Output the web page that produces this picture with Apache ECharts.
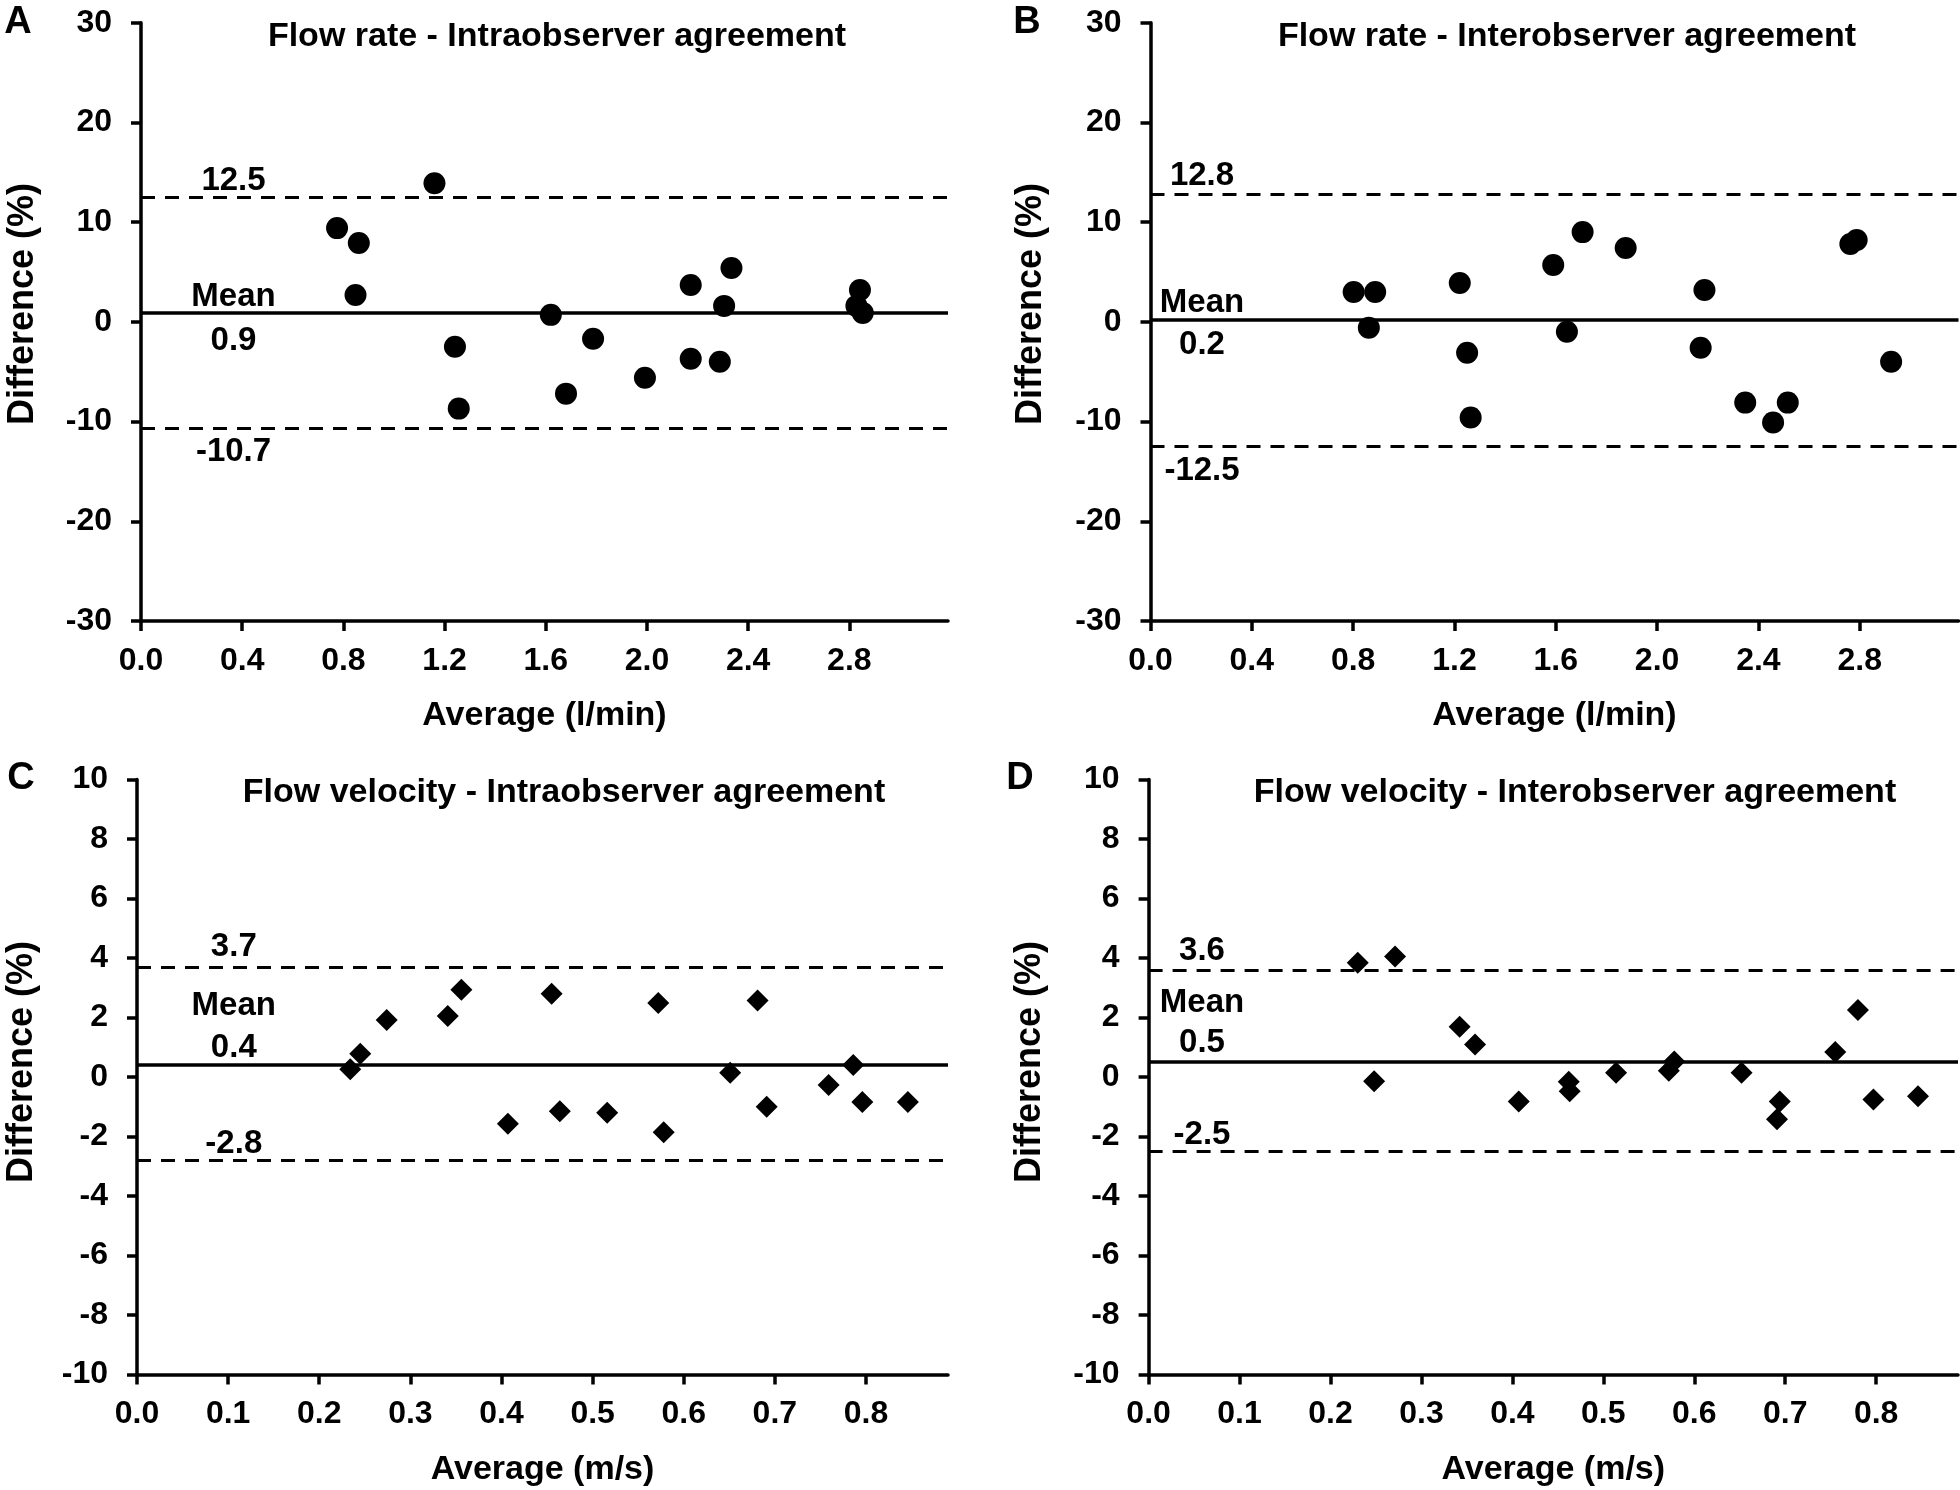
<!DOCTYPE html>
<html>
<head>
<meta charset="utf-8">
<script src="https://cdn.jsdelivr.net/npm/echarts@6/dist/echarts.min.js"></script>
<style>
html,body{margin:0;padding:0;background:#ffffff;}
#chart{width:1960px;height:1490px;}
</style>
</head>
<body>
<div id="chart"></div>
<script>
// ---------- DATA ----------
const panelLetters = ['A', 'B', 'C', 'D'];
const panelTitles = [
  'Flow rate - Intraobserver agreement',
  'Flow rate - Interobserver agreement',
  'Flow velocity - Intraobserver agreement',
  'Flow velocity - Interobserver agreement'
];
const xAxisNames = ['Average (l/min)', 'Average (l/min)', 'Average (m/s)', 'Average (m/s)'];
const yAxisName = 'Difference (%)';

const flowAvgTicks = [0, 0.4, 0.8, 1.2, 1.6, 2.0, 2.4, 2.8];
const velAvgTicks = [0, 0.1, 0.2, 0.3, 0.4, 0.5, 0.6, 0.7, 0.8];

// Panel A: flow rate, intraobserver
const aAvg  = [0.775, 0.861, 0.848, 1.160, 1.241, 1.256, 1.620, 1.680, 1.787, 1.992, 2.173, 2.173, 2.334, 2.305, 2.288, 2.842, 2.828, 2.853];
const aDiff = [9.4, 7.9, 2.7, 13.9, -2.5, -8.7, 0.7, -7.2, -1.7, -5.6, 3.7, -3.7, 5.4, 1.6, -4.0, 3.2, 1.6, 0.9];
const aLines = [0.9, 12.5, -10.7];   // mean, upper, lower

// Panel B: flow rate, interobserver
const bAvg  = [0.802, 0.887, 0.862, 1.221, 1.250, 1.264, 1.590, 1.644, 1.706, 1.876, 2.187, 2.172, 2.348, 2.458, 2.516, 2.763, 2.788, 2.924];
const bDiff = [3.0, 3.0, -0.6, 3.9, -3.1, -9.6, 5.7, -1.0, 9.0, 7.4, 3.2, -2.6, -8.1, -10.1, -8.1, 7.8, 8.2, -4.0];
const bLines = [0.2, 12.8, -12.5];

// Panel C: flow velocity, intraobserver
const cAvg  = [0.234, 0.245, 0.274, 0.341, 0.356, 0.455, 0.407, 0.464, 0.516, 0.572, 0.578, 0.651, 0.681, 0.691, 0.759, 0.786, 0.796, 0.846];
const cDiff = [0.26, 0.78, 1.92, 2.05, 2.93, 2.80, -1.57, -1.15, -1.20, 2.49, -1.86, 0.14, 2.57, -1.00, -0.27, 0.40, -0.84, -0.84];
const cLines = [0.4, 3.7, -2.8];

// Panel D: flow velocity, interobserver
const dAvg  = [0.230, 0.271, 0.248, 0.342, 0.359, 0.407, 0.462, 0.463, 0.514, 0.572, 0.578, 0.652, 0.694, 0.691, 0.755, 0.780, 0.797, 0.846];
const dDiff = [3.84, 4.05, -0.14, 1.69, 1.09, -0.82, -0.16, -0.48, 0.14, 0.21, 0.52, 0.14, -0.82, -1.42, 0.84, 2.25, -0.76, -0.65];
const dLines = [0.5, 3.6, -2.5];

// ---------- LAYOUT / STYLE ----------
const FONT = '"Liberation Sans", Arial, Helvetica, sans-serif';
const panels = [
  {avg: aAvg, diff: aDiff, lines: aLines, xTicks: flowAvgTicks, xMax: 3.19, yMin: -30, yMax: 30, yInt: 10, symbol: 'circle',
   grid: {left: 141, top: 22.7, width: 807, height: 598.3}, letter: [18, 23], title: [557, 37],
   yName: [23, 304], annX: 92.5, annDy: {upper: -16, mean: -15.5, meanVal: 28.5, lower: 23.5}},
  {avg: bAvg, diff: bDiff, lines: bLines, xTicks: flowAvgTicks, xMax: 3.19, yMin: -30, yMax: 30, yInt: 10, symbol: 'circle',
   grid: {left: 1150.5, top: 22.7, width: 808, height: 598.3}, letter: [1027, 23], title: [1567, 37],
   yName: [1031, 304], annX: 51.5, annDy: {upper: -18.5, mean: -16.5, meanVal: 25.5, lower: 24.5}},
  {avg: cAvg, diff: cDiff, lines: cLines, xTicks: velAvgTicks, xMax: 0.89, yMin: -10, yMax: 10, yInt: 2, symbol: 'diamond',
   grid: {left: 137, top: 779.5, width: 811, height: 595}, letter: [21, 779], title: [564, 793],
   yName: [22, 1062], annX: 96.8, annDy: {upper: -20.5, mean: -59.5, meanVal: -17.5, lower: -16.5}},
  {avg: dAvg, diff: dDiff, lines: dLines, xTicks: velAvgTicks, xMax: 0.89, yMin: -10, yMax: 10, yInt: 2, symbol: 'diamond',
   grid: {left: 1148.6, top: 779.5, width: 809.4, height: 595}, letter: [1020, 779], title: [1575, 793],
   yName: [1030, 1062], annX: 53.4, annDy: {upper: -18.5, mean: -59.5, meanVal: -19.5, lower: -16.5}}
];

const textBase = {color: '#000', fontWeight: 'bold', fontFamily: FONT};

const option = {
  backgroundColor: '#ffffff',
  animation: false,
  grid: panels.map(p => Object.assign({containLabel: false}, p.grid)),
  xAxis: panels.map((p, i) => ({
    type: 'value', gridIndex: i, min: 0, max: p.xMax,
    name: xAxisNames[i], nameLocation: 'middle', nameGap: 78,
    nameTextStyle: Object.assign({fontSize: 34}, textBase),
    axisLine: {show: true, onZero: false, lineStyle: {color: '#000', width: 3.5}},
    axisTick: {show: true, customValues: p.xTicks, length: 10, lineStyle: {color: '#000', width: 3.5}},
    axisLabel: Object.assign({customValues: p.xTicks, fontSize: 32, margin: 24,
      formatter: v => Number(v).toFixed(1)}, textBase),
    splitLine: {show: false}
  })),
  yAxis: panels.map((p, i) => ({
    type: 'value', gridIndex: i, min: p.yMin, max: p.yMax, interval: p.yInt,
    axisLine: {show: true, onZero: false, lineStyle: {color: '#000', width: 3.5}},
    axisTick: {show: true, length: 10, lineStyle: {color: '#000', width: 3.5}},
    axisLabel: Object.assign({fontSize: 32, margin: 29}, textBase),
    splitLine: {show: false}
  })),
  series: panels.map((p, i) => ({
    type: 'scatter', xAxisIndex: i, yAxisIndex: i, z: 5,
    symbol: p.symbol, symbolSize: 22,
    itemStyle: {color: '#000', opacity: 1},
    data: p.avg.map((x, k) => [x, p.diff[k]]),
    markLine: {
      silent: true, symbol: ['none', 'none'], animation: false,
      label: {show: false},
      lineStyle: {color: '#000'},
      data: [
        {yAxis: p.lines[0], lineStyle: {type: 'solid', width: 3.5, color: '#000'}},
        {yAxis: p.lines[1], lineStyle: {type: [14, 10], width: 3, color: '#000'}},
        {yAxis: p.lines[2], lineStyle: {type: [14, 10], width: 3, color: '#000'}}
      ]
    }
  }))
};

const chart = echarts.init(document.getElementById('chart'), null, {renderer: 'canvas'});
chart.setOption(option);

// text annotations (titles, panel letters, y-axis names, limit labels)
const graphics = [];
panels.forEach((p, i) => {
  graphics.push({type: 'text', x: p.letter[0], y: p.letter[1],
    style: {text: panelLetters[i], font: 'bold 38px ' + FONT, fill: '#000', align: 'center', verticalAlign: 'middle'}});
  graphics.push({type: 'text', x: p.title[0], y: p.title[1],
    style: {text: panelTitles[i], font: 'bold 34px ' + FONT, fill: '#000', align: 'center', verticalAlign: 'middle'}});
  graphics.push({type: 'text', x: p.yName[0], y: p.yName[1], rotation: Math.PI / 2,
    style: {text: yAxisName, font: 'bold 36px ' + FONT, fill: '#000', align: 'center', verticalAlign: 'middle'}});
  const yPix = v => chart.convertToPixel({gridIndex: i}, [0, v])[1];
  const ax = p.grid.left + p.annX;
  const anns = [
    {text: p.lines[1].toFixed(1), y: yPix(p.lines[1]) + p.annDy.upper},
    {text: 'Mean', y: yPix(p.lines[0]) + p.annDy.mean},
    {text: p.lines[0].toFixed(1), y: yPix(p.lines[0]) + p.annDy.meanVal},
    {text: p.lines[2].toFixed(1), y: yPix(p.lines[2]) + p.annDy.lower}
  ];
  anns.forEach(a => graphics.push({type: 'text', x: ax, y: a.y, z: 10,
    style: {text: a.text, font: 'bold 33px ' + FONT, fill: '#000', align: 'center', verticalAlign: 'middle'}}));
});
chart.setOption({graphic: graphics});
</script>
</body>
</html>
